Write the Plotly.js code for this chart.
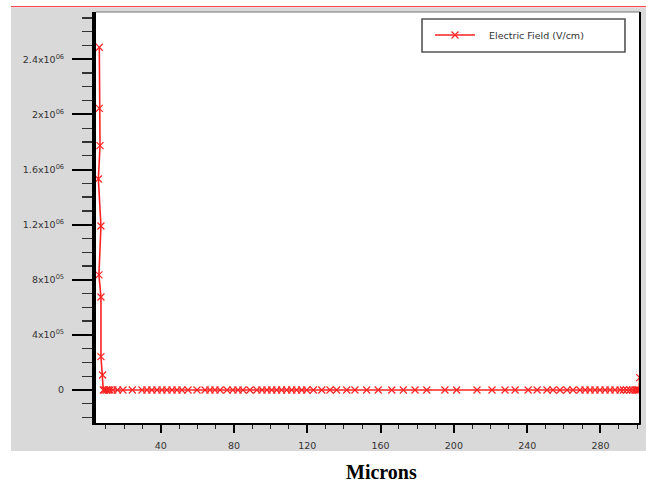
<!DOCTYPE html>
<html>
<head>
<meta charset="utf-8">
<script src="https://cdn.plot.ly/plotly-3.0.1.min.js"></script>
<style>
html,body{margin:0;padding:0;background:#fff;}
#chart{width:646px;height:484px;}
</style>
</head>
<body>
<div id="chart"></div>
<script>
// Electric field profile (V/cm) vs position (microns)
const fieldX = [
  6.5, 6.5, 6.9, 6.0, 7.4, 6.3, 7.4, 7.4, 8.3, 8.7,
  9.5, 10.5, 11.5, 12.3, 13.9, 16.5, 19.4, 24.5, 29.8, 32.5,
  35.2, 38.0, 40.7, 43.4, 46.2, 48.9, 51.6, 54.9, 59.8, 64.2,
  66.9, 69.6, 72.4, 76.2, 79.4, 82.2, 84.9, 88.7, 92.5, 95.3,
  98.0, 100.6, 103.3, 106.0, 108.8, 111.5, 114.2, 117.0, 119.7, 123.3,
  127.9, 132.4, 136.0, 141.5, 146.0, 152.4, 158.7, 166.1, 172.4, 178.8,
  185.2, 195.1, 201.5, 212.6, 220.8, 227.9, 233.4, 240.5, 245.4, 250.8,
  254.1, 257.9, 261.7, 265.0, 268.8, 271.6, 274.3, 277.0, 279.7, 282.5,
  285.2, 287.9, 290.7, 292.5, 294.3, 296.1, 297.5, 298.8, 299.7, 300.4,
  301.0, 301.4
];
const fieldY = [
  2.487e6, 2.044e6, 1.773e6, 1.531e6, 1.190e6, 8.35e5, 6.75e5, 2.42e5, 1.09e5, 0,
  0, 0, 0, 0, 0, 0, 0, 0, 0, 0,
  0, 0, 0, 0, 0, 0, 0, 0, 0, 0,
  0, 0, 0, 0, 0, 0, 0, 0, 0, 0,
  0, 0, 0, 0, 0, 0, 0, 0, 0, 0,
  0, 0, 0, 0, 0, 0, 0, 0, 0, 0,
  0, 0, 0, 0, 0, 0, 0, 0, 0, 0,
  0, 0, 0, 0, 0, 0, 0, 0, 0, 0,
  0, 0, 0, 0, 0, 0, 0, 0, 0, 0,
  0, 9.0e4
];
const seriesName = 'Electric Field (V/cm)';
const xTickVals = [40, 80, 120, 160, 200, 240, 280];
const xTickText = ['40', '80', '120', '160', '200', '240', '280'];
const yTickVals = [0, 4e5, 8e5, 1.2e6, 1.6e6, 2e6, 2.4e6];
const yTickText = ['0', '4x10<sup>05</sup>', '8x10<sup>05</sup>', '1.2x10<sup>06</sup>',
                   '1.6x10<sup>06</sup>', '2x10<sup>06</sup>', '2.4x10<sup>06</sup>'];
const xTitle = 'Microns';

const red = 'rgb(255,35,35)';
const trace = {
  x: fieldX, y: fieldY, type: 'scatter', mode: 'lines+markers',
  name: '\u00a0\u00a0\u00a0' + seriesName,
  line: {color: red, width: 1.6},
  marker: {symbol: 'x-thin', size: 7, color: red, line: {color: red, width: 1.2}}
};

const tickFont = {family: 'DejaVu Sans, Arial, sans-serif', size: 9.5, color: '#333'};
const layout = {
  width: 646, height: 484,
  margin: {l: 96, r: 6, t: 12, b: 61, pad: 0},
  paper_bgcolor: '#ffffff',
  plot_bgcolor: '#ffffff',
  showlegend: true,
  legend: {
    x: 0.614, y: 0.944, xanchor: 'left', yanchor: 'middle',
    bgcolor: 'rgba(0,0,0,0)', borderwidth: 0, itemwidth: 40,
    font: {family: 'DejaVu Sans, Arial, sans-serif', size: 9.5, color: '#333'}
  },
  xaxis: {
    range: [4.7, 301.56], showgrid: false, zeroline: false,
    showline: true, linecolor: '#000', linewidth: 2,
    tickmode: 'array', tickvals: xTickVals, ticktext: xTickText,
    ticks: 'outside', ticklen: 8, tickwidth: 2, tickcolor: '#000',
    tickfont: tickFont, ticklabelstandoff: 5,
    minor: {tickmode: 'linear', tick0: 0, dtick: 10, ticks: 'outside', ticklen: 4, tickwidth: 1, tickcolor: '#222'}
  },
  yaxis: {
    range: [-2.395e5, 2.743e6], showgrid: false, zeroline: false,
    showline: true, linecolor: '#000', linewidth: 4,
    tickmode: 'array', tickvals: yTickVals, ticktext: yTickText,
    ticks: 'outside', ticklen: 20, tickwidth: 2, tickcolor: '#000',
    tickfont: tickFont, ticklabelstandoff: 6,
    minor: {tickmode: 'linear', tick0: 0, dtick: 1e5, ticks: 'outside', ticklen: 10, tickwidth: 1.3, tickcolor: '#333'}
  },
  shapes: [
    {type: 'rect', xref: 'paper', yref: 'paper', x0: -0.15625, x1: 1.011, y0: -0.0681, y1: 1.0097,
     fillcolor: '#d9d9d9', line: {width: 0}, layer: 'below'},
    {type: 'rect', xref: 'paper', yref: 'paper', x0: 0, x1: 1, y0: 0, y1: 1,
     fillcolor: '#ffffff', line: {width: 0}, layer: 'below'},
    {type: 'line', xref: 'paper', yref: 'paper', x0: -0.15625, x1: 1.011, y0: 1.0129, y1: 1.0129,
     line: {color: '#e8262a', width: 1}},
    {type: 'line', xref: 'paper', yref: 'paper', x0: 0, x1: 1, y0: 1, y1: 1,
     line: {color: '#777', width: 1}},
    {type: 'line', xref: 'paper', yref: 'paper', x0: 1, x1: 1, y0: -0.004, y1: 1,
     line: {color: '#000', width: 2}},
    {type: 'rect', xref: 'paper', yref: 'paper', x0: 0.5993, x1: 0.9724, y0: 0.9027, y1: 0.983,
     fillcolor: 'rgba(0,0,0,0)', line: {color: '#555', width: 1.6}}
  ],
  annotations: [
    {text: '<b>' + xTitle + '</b>', xref: 'paper', yref: 'paper', x: 0.5257, y: -0.12,
     xanchor: 'center', yanchor: 'middle', showarrow: false,
     font: {family: 'Liberation Serif, Times New Roman, serif', size: 20, color: '#000'}}
  ]
};

Plotly.newPlot('chart', [trace], layout, {displayModeBar: false, staticPlot: true});
</script>
</body>
</html>
